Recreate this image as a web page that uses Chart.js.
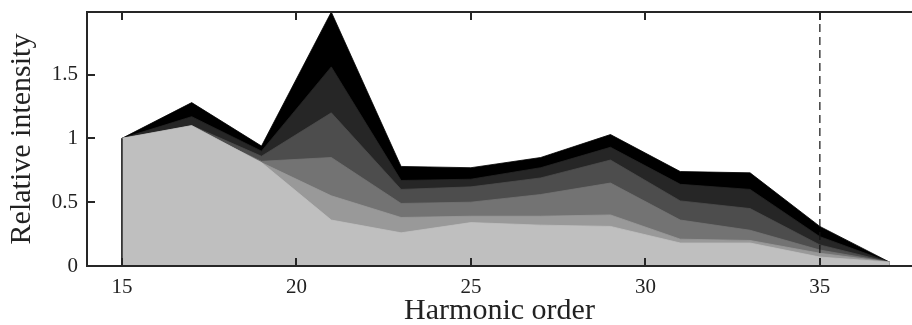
<!DOCTYPE html>
<html>
<head>
<meta charset="utf-8">
<script src="https://cdn.jsdelivr.net/npm/chart.js@4.4.1/dist/chart.umd.min.js"></script>
<style>
  html, body { margin: 0; padding: 0; background: #fff; overflow: hidden; }
</style>
</head>
<body>
<canvas id="myChart" width="912" height="325"></canvas>
<script>
// odd harmonics on the x axis
var harmonics = [15, 17, 19, 21, 23, 25, 27, 29, 31, 33, 35, 37];

// one curve per layer, back (black) to front (light grey)
var layer1 = [1.0, 1.28, 0.94, 1.99, 0.78, 0.77, 0.85, 1.03, 0.74, 0.73, 0.31, 0.03];
var layer2 = [1.0, 1.17, 0.90, 1.56, 0.67, 0.68, 0.77, 0.93, 0.64, 0.60, 0.23, 0.03];
var layer3 = [1.0, 1.10, 0.86, 1.20, 0.60, 0.62, 0.69, 0.83, 0.51, 0.45, 0.165, 0.03];
var layer4 = [1.0, 1.08, 0.82, 0.85, 0.49, 0.50, 0.56, 0.65, 0.36, 0.28, 0.125, 0.03];
var layer5 = [1.0, 1.06, 0.81, 0.55, 0.38, 0.39, 0.39, 0.40, 0.21, 0.20, 0.10, 0.03];
var layer6 = [1.0, 1.10, 0.81, 0.36, 0.26, 0.34, 0.32, 0.31, 0.18, 0.18, 0.07, 0.03];

var layers = [layer1, layer2, layer3, layer4, layer5, layer6];
var greys = ['#000000', '#262626', '#4d4d4d', '#737373', '#999999', '#bfbfbf'];

var xTicks = [15, 20, 25, 30, 35];
var yTicks = [0, 0.5, 1, 1.5];
var xMin = 14, xMax = 37.64;
var yMin = 0, yMax = 1.99;

// cutoff marker
var cutoffOrder = 35;

function toPoints(ys) {
    return ys.map(function (y, i) { return { x: harmonics[i], y: y }; });
}

var datasets = [];

datasets.push({
    type: 'line',
    data: [{ x: cutoffOrder, y: yMin }, { x: cutoffOrder, y: yMax }],
    borderColor: '#111',
    borderWidth: 1.2,
    borderDash: [8, 5],
    pointRadius: 0,
    fill: false
});

datasets.push({
    type: 'line',
    data: [{ x: harmonics[0], y: 0 }, { x: harmonics[0], y: layer6[0] }],
    borderColor: '#222',
    borderWidth: 1.6,
    pointRadius: 0,
    fill: false
});

// front layer first: Chart.js paints index 0 last
for (var i = layers.length - 1; i >= 0; i--) {
    datasets.push({
        type: 'line',
        data: toPoints(layers[i]),
        borderColor: greys[i],
        backgroundColor: greys[i],
        borderWidth: 0.8,
        pointRadius: 0,
        tension: 0,
        fill: 'origin'
    });
}

// axes box (open on the right) with inward ticks
var frame = {
    id: 'frame',
    afterDatasetsDraw: function (chart) {
        var ctx = chart.ctx;
        var a = chart.chartArea;
        var sx = chart.scales.x, sy = chart.scales.y;
        var len = 8;
        ctx.save();
        ctx.strokeStyle = '#262626';
        ctx.lineWidth = 2;
        ctx.beginPath();
        ctx.moveTo(a.right + 2, a.top);
        ctx.lineTo(a.left, a.top);
        ctx.lineTo(a.left, a.bottom);
        ctx.lineTo(a.right + 2, a.bottom);
        xTicks.forEach(function (v) {
            var px = Math.round(sx.getPixelForValue(v));
            ctx.moveTo(px, a.bottom);
            ctx.lineTo(px, a.bottom - len);
            ctx.moveTo(px, a.top);
            ctx.lineTo(px, a.top + len);
        });
        yTicks.forEach(function (v) {
            var py = Math.round(sy.getPixelForValue(v));
            ctx.moveTo(a.left, py);
            ctx.lineTo(a.left + len, py);
        });
        ctx.stroke();
        ctx.restore();
    }
};

var tickFont = { family: "'Liberation Serif', 'DejaVu Serif', serif", size: 21 };
var titleFont = { family: "'Liberation Serif', 'DejaVu Serif', serif", size: 30 };

var myChart = new Chart(document.getElementById('myChart'), {
    type: 'line',
    data: { datasets: datasets },
    options: {
        responsive: false,
        animation: false,
        devicePixelRatio: 1,
        layout: { padding: { top: 12, right: 0, left: 0, bottom: 0 } },
        plugins: { legend: { display: false }, tooltip: { enabled: false } },
        scales: {
            x: {
                type: 'linear',
                min: xMin,
                max: xMax,
                grid: { display: false, drawTicks: false },
                border: { display: false },
                afterBuildTicks: function (scale) {
                    scale.ticks = xTicks.map(function (v) { return { value: v }; });
                },
                afterFit: function (scale) {
                    scale.height = 59;
                    scale.paddingLeft = 0;
                    scale.paddingRight = 0;
                },
                ticks: { font: tickFont, color: '#222', padding: 9, maxRotation: 0 },
                title: { display: true, text: 'Harmonic order', font: titleFont, color: '#222', padding: { top: 0, bottom: -4 } }
            },
            y: {
                min: yMin,
                max: yMax,
                grid: { display: false, drawTicks: false },
                border: { display: false },
                afterBuildTicks: function (scale) {
                    scale.ticks = yTicks.map(function (v) { return { value: v }; });
                },
                afterFit: function (scale) {
                    scale.width = 87;
                    scale.paddingTop = 0;
                    scale.paddingBottom = 0;
                },
                ticks: {
                    font: tickFont, color: '#222', padding: 9,
                    callback: function (v) { return String(v); }
                },
                title: { display: true, text: 'Relative intensity', font: titleFont, color: '#222', padding: { top: 4, bottom: 0 } }
            }
        }
    },
    plugins: [frame]
});
</script>
</body>
</html>
